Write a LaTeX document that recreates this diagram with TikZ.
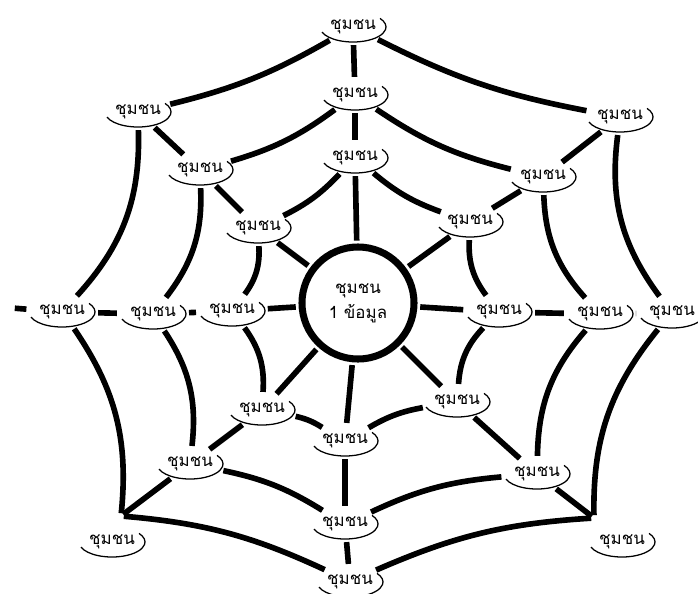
\documentclass[tikz,border=0pt]{standalone}
\usepackage{fontspec}
\newfontfamily\thaifont[Script=Thai]{Loma}
\usetikzlibrary{shapes.geometric}

\tikzset{
  chumchon/.style={ellipse,fill=white,minimum width=1.65cm,minimum height=0.75cm,inner sep=0pt,font=\thaifont\fontsize{12}{14}\selectfont},
  web/.style={line width=4pt,shorten <=2pt,shorten >=2pt},
  rim/.style={line width=0.9pt},
}

\begin{document}
\begin{tikzpicture}[x=0.025cm,y=-0.025cm]
	\useasboundingbox (0,0) rectangle (698,593);
	\node[circle,draw,line width=5pt,minimum size=2.8cm,align=center,font=\thaifont\fontsize{12}{14}\selectfont] (hub) at (358,303) {ชุมชน\\[4pt]1 ข้อมูล};
	% outer ring
	\node[chumchon] (oT) at (353,27) {ชุมชน};
	\node[chumchon] (oUL) at (138,112) {ชุมชน};
	\node[chumchon] (oL) at (62,312) {ชุมชน};
	\node[chumchon] (oLL) at (112,542) {ชุมชน};
	\node[chumchon] (oB) at (350,582) {ชุมชน};
	\node[chumchon] (oLR) at (622,542) {ชุมชน};
	\node[chumchon] (oR) at (672,313) {ชุมชน};
	\node[chumchon] (oUR) at (620,117) {ชุมชน};
	% middle ring
	\node[chumchon] (mT) at (355,95) {ชุมชน};
	\node[chumchon] (mUL) at (200,170) {ชุมชน};
	\node[chumchon] (mL) at (153,314) {ชุมชน};
	\node[chumchon] (mLL) at (190,464) {ชุมชน};
	\node[chumchon] (mB) at (345,524) {ชุมชน};
	\node[chumchon] (mLR) at (537,474) {ชุมชน};
	\node[chumchon] (mR) at (600,314) {ชุมชน};
	\node[chumchon] (mUR) at (543,177) {ชุมชน};
	% inner ring
	\node[chumchon] (iT) at (355,158) {ชุมชน};
	\node[chumchon] (iUL) at (258,228) {ชุมชน};
	\node[chumchon] (iL) at (232,311) {ชุมชน};
	\node[chumchon] (iLL) at (262,410) {ชุมชน};
	\node[chumchon] (iB) at (345,441) {ชุมชน};
	\node[chumchon] (iLR) at (457,402) {ชุมชน};
	\node[chumchon] (iR) at (499,312) {ชุมชน};
	\node[chumchon] (iUR) at (470,222) {ชุมชน};
	\coordinate (llc) at (121,516);
	\coordinate (lrc) at (594,518);
	\coordinate (lstub) at (12,308);
	\foreach \n in {oT,oUL,oL,oLL,oB,oLR,oR,oUR,mT,mUL,mL,mLL,mB,mLR,mR,mUR,iT,iUL,iL,iLL,iB,iLR,iR,iUR}
		\draw[rim] (\n.center) ++(200:0.825cm and 0.375cm) arc[start angle=200,end angle=395,x radius=0.825cm,y radius=0.375cm];
	% spokes
	\foreach \d in {T,UL,L,LL,B,LR,R,UR}{
		\draw[web] (m\d) -- (i\d);
		\draw[web] (i\d) -- (hub);
	}
	\draw[web] (oT) -- (mT);
	\draw[web] (oUL) -- (mUL);
	\draw[web] (oL) -- (mL);
	\draw[web] (llc) -- (mLL);
	\draw[web] (oB) -- (mB);
	\draw[web] (lrc) -- (mLR);
	\draw[web] (oR) -- (mR);
	\draw[web] (oUR) -- (mUR);
	\draw[web] (oL) -- (lstub);
	% web
	\draw[web] (oT) to[bend left=8] (oUL);
	\draw[web] (oUL) to[bend left=22] (oL);
	\draw[web] (oL) to[bend left=20] (llc);
	\draw[web] (llc) to[bend left=10] (oB);
	\draw[web] (oB) to[bend left=10] (lrc);
	\draw[web] (lrc) to[bend left=20] (oR);
	\draw[web] (oR) to[bend left=22] (oUR);
	\draw[web] (oUR) to[bend left=8] (oT);
	\foreach \r in {m,i}{
		\draw[web] (\r T) to[bend left=10] (\r UL);
		\draw[web] (\r UL) to[bend left=20] (\r L);
		\draw[web] (\r L) to[bend left=20] (\r LL);
		\draw[web] (\r LL) to[bend left=10] (\r B);
		\draw[web] (\r B) to[bend left=10] (\r LR);
		\draw[web] (\r LR) to[bend left=20] (\r R);
		\draw[web] (\r R) to[bend left=20] (\r UR);
		\draw[web] (\r UR) to[bend left=10] (\r T);
	}
\end{tikzpicture}
\end{document}
